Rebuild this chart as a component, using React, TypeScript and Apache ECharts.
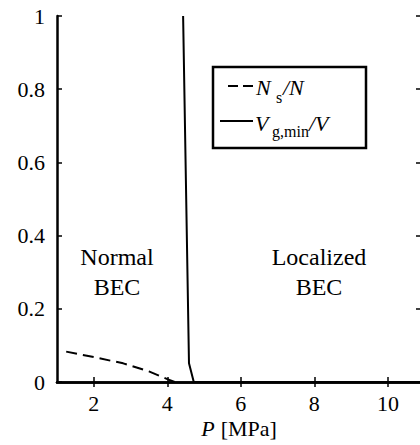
import React, { useEffect, useRef } from "react";
import * as echarts from "echarts";

const xTicks = [2, 4, 6, 8, 10];
const yTicks = [0, 0.2, 0.4, 0.6, 0.8, 1];
const nsCurve: [number, number][] = [
  [1.25, 0.083],
  [2.0, 0.068],
  [2.8, 0.051],
  [3.5, 0.029],
  [4.0, 0.008],
  [4.2, 0.0],
];
const vgCurve: [number, number][] = [
  [4.43, 1.0],
  [4.59, 0.051],
  [4.72, 0.0],
  [10.9, 0.0],
];
const regionLabels = [
  { text: "Normal\nBEC", x: 117 },
  { text: "Localized\nBEC", x: 319 },
];

const FONT = "'Liberation Serif', 'Times New Roman', serif";

export default function App() {
  const ref = useRef<HTMLDivElement>(null);
  useEffect(() => {
    if (!ref.current) return;
    const chart = echarts.init(ref.current, undefined, { renderer: "svg" });
    const axisLine = { show: true, lineStyle: { color: "#000", width: 2.5 } };
    const tick = { show: true, inside: true, length: 5, lineStyle: { color: "#000", width: 1.5 } };
    const labelRich = {
      a: { fontFamily: FONT, fontSize: 22, lineHeight: 18, color: "#000" },
      i: { fontFamily: FONT, fontStyle: "italic", fontSize: 22, lineHeight: 18, color: "#000" },
    };
    const txt = (text: string, x: number, y: number, size: number, italic: boolean) => ({
      type: "text",
      x,
      y,
      z: 11,
      style: italic
        ? { text, fontFamily: FONT, fontSize: size, fontStyle: "italic", fill: "#000", verticalAlign: "middle" }
        : { text, fontFamily: FONT, fontSize: size, fill: "#000", verticalAlign: "middle" },
    });
    chart.setOption({
      animation: false,
      grid: { left: 57, top: 16, width: 364, height: 366, containLabel: false },
      xAxis: [
        {
          type: "value",
          min: 1,
          max: 10.9,
          position: "bottom",
          axisLine,
          axisTick: { ...tick, customValues: xTicks },
          splitLine: { show: false },
          axisLabel: {
            customValues: xTicks,
            fontFamily: FONT,
            fontSize: 22,
            lineHeight: 18,
            color: "#000",
            margin: 12,
          },
          name: "{i|P} {a|[MPa]}",
          nameLocation: "middle",
          nameGap: 37,
          nameMoveOverlap: false,
          nameTextStyle: {
            fontSize: 22,
            lineHeight: 18,
            color: "#000",
            rich: labelRich,
          },
        },
        {
          type: "value",
          min: 1,
          max: 10.9,
          position: "top",
          axisLine,
          axisTick: { ...tick, customValues: xTicks },
          axisLabel: { show: false },
          splitLine: { show: false },
        },
      ],
      yAxis: [
        {
          type: "value",
          min: 0,
          max: 1,
          interval: 0.2,
          position: "left",
          axisLine,
          axisTick: tick,
          splitLine: { show: false },
          axisLabel: {
            fontFamily: FONT,
            fontSize: 22,
            color: "#000",
            margin: 12,
            formatter: (v: number) => String(Math.round(v * 10) / 10),
          },
        },
        {
          type: "value",
          min: 0,
          max: 1,
          interval: 0.2,
          position: "right",
          axisLine,
          axisTick: tick,
          axisLabel: { show: false },
          splitLine: { show: false },
        },
      ],
      series: [
        {
          type: "line",
          data: nsCurve,
          symbol: "none",
          lineStyle: { color: "#000", width: 2, type: [11, 6] },
        },
        {
          type: "line",
          data: vgCurve,
          symbol: "none",
          lineStyle: { color: "#000", width: 2, type: "solid" },
        },
      ],
      graphic: [
        {
          type: "rect",
          shape: { x: 213, y: 67, width: 153, height: 81 },
          style: { fill: "#fff", stroke: "#000", lineWidth: 2.5 },
          z: 10,
        },
        {
          type: "line",
          shape: { x1: 228, y1: 86, x2: 253, y2: 86 },
          style: { stroke: "#000", lineWidth: 2, lineDash: [10, 5] },
          z: 11,
        },
        {
          type: "line",
          shape: { x1: 220, y1: 121, x2: 253, y2: 121 },
          style: { stroke: "#000", lineWidth: 2 },
          z: 11,
        },
        txt("N", 256, 87.6, 22, true),
        txt("s", 276, 97, 16, false),
        txt("/N", 283, 87.6, 22, true),
        txt("V", 255, 123.6, 22, true),
        txt("g,min", 272, 131.3, 16, false),
        txt("/V", 309, 123.6, 22, true),
        ...regionLabels.map((r) => ({
          type: "text",
          x: r.x,
          y: 272,
          z: 11,
          style: {
            text: r.text,
            fontFamily: FONT,
            fontSize: 24,
            lineHeight: 30,
            fill: "#000",
            align: "center",
            verticalAlign: "middle",
          },
        })),
      ],
    });
    return () => chart.dispose();
  }, []);
  return (
    <div style={{ position: "fixed", left: 0, top: 0, width: 420, height: 445, overflow: "hidden", background: "#fff" }}>
      <div ref={ref} style={{ width: 440, height: 445 }} />
    </div>
  );
}
